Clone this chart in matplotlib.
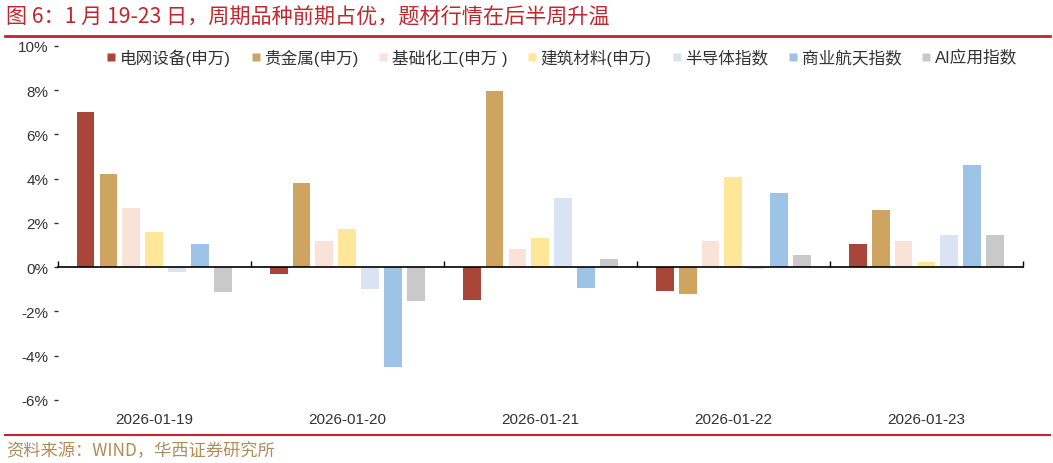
import matplotlib
matplotlib.use('Agg')
import matplotlib.pyplot as plt
import matplotlib.transforms as mtransforms
from matplotlib.lines import Line2D
import numpy as np

plt.rcParams['font.family'] = ['Liberation Sans', 'Noto Sans CJK SC', 'DejaVu Sans']
plt.rcParams['axes.unicode_minus'] = False

# 数据
dates = ['2026-01-19', '2026-01-20', '2026-01-21', '2026-01-22', '2026-01-23']
series_names = ['电网设备(申万)', '贵金属(申万)', '基础化工(申万 )', '建筑材料(申万)',
                '半导体指数', '商业航天指数', 'AI应用指数']
grid_power = [7.00, -0.30, -1.47, -1.06, 1.05]
precious_metal = [4.21, 3.81, 7.95, -1.21, 2.59]
basic_chem = [2.68, 1.17, 0.82, 1.17, 1.17]
building_mat = [1.58, 1.73, 1.31, 4.08, 0.24]
semiconductor = [-0.23, -1.00, 3.13, -0.09, 1.46]
aerospace = [1.04, -4.52, -0.94, 3.36, 4.62]
ai_app = [-1.13, -1.54, 0.36, 0.57, 1.46]
yticks = [-6, -4, -2, 0, 2, 4, 6, 8, 10]

series = [grid_power, precious_metal, basic_chem, building_mat, semiconductor, aerospace, ai_app]
colors = ['#A9463A', '#CDA561', '#F9E3D8', '#FFE699', '#DAE3F3', '#9DC3E6', '#C9C9C9']

RED = '#C0272D'
SRC = '#B08D57'

fig = plt.figure(figsize=(10.53, 4.64), dpi=100)
fig.patch.set_facecolor('white')
ax = fig.add_axes([0.055, 0.136, 0.9165, 0.763])

x = np.arange(len(dates))
step = 0.119
width = 0.093
n = len(series)
for i, (vals, c) in enumerate(zip(series, colors)):
    offs = (i - (n - 1) / 2) * step
    ax.bar(x + offs, vals, width=width, color=c, edgecolor='none', label=series_names[i], zorder=2)

ax.set_xlim(-0.5, len(dates) - 0.5)
ax.set_ylim(-6, 10)
ax.set_yticks(yticks)
ax.set_yticklabels([f'{v}%' for v in yticks], fontsize=11, color='#333333')

# x 轴放在 0 处
ax.spines['bottom'].set_position(('data', 0))
ax.spines['bottom'].set_color('black')
ax.spines['bottom'].set_linewidth(1.2)
for s in ['top', 'right', 'left']:
    ax.spines[s].set_visible(False)
ax.set_xticks(np.arange(len(dates) + 1) - 0.5)
ax.set_xticklabels([])
ax.tick_params(axis='x', direction='in', length=4, width=1, color='black')
ax.tick_params(axis='y', direction='out', length=3, width=1, color='#333333', pad=4)

# 日期标签放在底部
trans = mtransforms.blended_transform_factory(ax.transData, ax.transAxes)
for xi, d in zip(x, dates):
    ax.text(xi, -0.055, d, transform=trans, ha='center', va='center', fontsize=11, color='#333333')

# 图例
handles = [Line2D([], [], marker='s', linestyle='none', markersize=6, markerfacecolor=c,
                  markeredgecolor='none') for c in colors]
ax.legend(handles, series_names, loc='upper center', bbox_to_anchor=(0.522, 1.036), ncol=7,
          frameon=False, fontsize=12, handlelength=0.6, handletextpad=0.2, columnspacing=1.2,
          labelcolor='#333333')

# 标题与来源
fig.text(0.006, 0.962, '图 6：1 月 19-23 日，周期品种前期占优，题材行情在后半周升温',
         fontsize=15.2, color=RED, ha='left', va='center',
         family=['Noto Sans CJK SC', 'DejaVu Sans'])
fig.add_artist(Line2D([0.005, 0.997], [0.921, 0.921], color=RED, linewidth=2,
                      transform=fig.transFigure))
fig.add_artist(Line2D([0.005, 0.997], [0.061, 0.061], color=RED, linewidth=1.5,
                      transform=fig.transFigure))
fig.text(0.006, 0.028, '资料来源：WIND，华西证券研究所', fontsize=12.4, color=SRC,
         ha='left', va='center', family=['Noto Sans CJK SC', 'DejaVu Sans'])

fig.savefig('out.png', dpi=100, facecolor='white')
plt.close()
